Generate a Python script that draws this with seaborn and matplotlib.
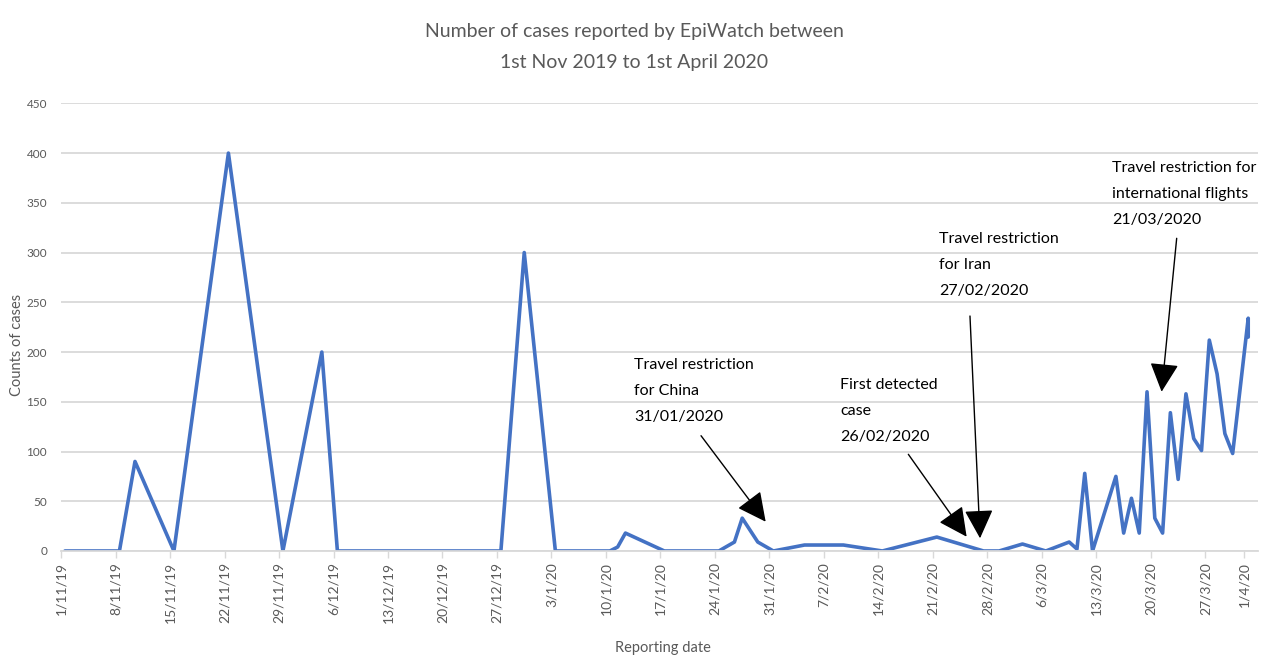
import pandas as pd
import seaborn as sns
import matplotlib.pyplot as plt

# values
report_dates = [
    "2019-11-01", "2019-11-08", "2019-11-10", "2019-11-15", "2019-11-22",
    "2019-11-29", "2019-12-04", "2019-12-06", "2019-12-27", "2019-12-30",
    "2020-01-03", "2020-01-10", "2020-01-11", "2020-01-12", "2020-01-17",
    "2020-01-24", "2020-01-26", "2020-01-27", "2020-01-29", "2020-01-31",
    "2020-02-04", "2020-02-09", "2020-02-14", "2020-02-21", "2020-02-27",
    "2020-02-29", "2020-03-03", "2020-03-06", "2020-03-09", "2020-03-10",
    "2020-03-11", "2020-03-12", "2020-03-15", "2020-03-16", "2020-03-17",
    "2020-03-18", "2020-03-19", "2020-03-20", "2020-03-21", "2020-03-22",
    "2020-03-23", "2020-03-24", "2020-03-25", "2020-03-26", "2020-03-27",
    "2020-03-28", "2020-03-29", "2020-03-30", "2020-04-01", "2020-04-01",
]
case_counts = [
    0, 0, 90, 0, 400,
    0, 200, 0, 0, 300,
    0, 0, 4, 18, 0,
    0, 9, 33, 9, 0,
    6, 6, 0, 14, 0,
    0, 7, 0, 9, 2,
    78, 0, 75, 18, 53,
    18, 160, 33, 18, 139,
    72, 158, 113, 101, 212,
    178, 118, 98, 234, 215,
]
tick_dates = list(pd.date_range("2019-11-01", "2020-03-27", freq="7D")) + [pd.Timestamp("2020-04-01")]

annotations = [
    ("Travel restriction\nfor China\n31/01/2020", (0.4787, 0.3574), (0.5347, 0.2575), (0.5887, 0.0654)),
    ("First detected\ncase\n26/02/2020", (0.6508, 0.3127), (0.7079, 0.2160), (0.7566, 0.0319)),
    ("Travel restriction\nfor Iran\n27/02/2020", (0.7335, 0.6388), (0.7594, 0.5249), (0.7678, 0.0284)),
    ("Travel restriction for\ninternational flights\n21/03/2020", (0.8780, 0.7974), (0.9321, 0.6985), (0.9195, 0.3558)),
]

df = pd.DataFrame({"date": pd.to_datetime(report_dates), "cases": case_counts})
# Excel date axis puts each point in the middle of its day slot
df["slot"] = df["date"] + pd.Timedelta(hours=12)

sns.set_theme(style="white")
plt.rcParams["font.family"] = ["Lato", "DejaVu Sans"]
grey = "#595959"

fig = plt.figure(figsize=(12.69, 6.59), dpi=100)
ax = fig.add_axes([0.0481, 0.1639, 0.9432, 0.6793])

sns.lineplot(data=df, x="slot", y="cases", ax=ax, color="#4472C4", linewidth=2.6,
             estimator=None, sort=False)

ax.set_ylim(0, 450)
ax.set_yticks(range(0, 451, 50))
ax.set_xlim(pd.Timestamp("2019-11-01"), pd.Timestamp("2019-11-01") + pd.Timedelta(days=153.75))
ax.set_xticks(tick_dates)
ax.set_xticklabels([f"{d.day}/{d.month}/{d:%y}" for d in tick_dates], rotation=90)

ax.grid(axis="y", color="#d9d9d9", linewidth=1.3)
ax.grid(axis="x", visible=False)
ax.set_axisbelow(True)
for side in ["top", "right", "left"]:
    ax.spines[side].set_visible(False)
ax.spines["bottom"].set_color("#d9d9d9")
ax.spines["bottom"].set_linewidth(1.3)
ax.tick_params(axis="x", bottom=True, length=5, width=1, color="#d9d9d9",
               labelsize=10, labelcolor=grey, pad=3)
ax.tick_params(axis="y", left=False, labelsize=8.5, labelcolor=grey, pad=4)

ax.set_xlabel("Reporting date", fontsize=10.5, color=grey)
ax.xaxis.set_label_coords(0.503, -0.2)
ax.set_ylabel("Counts of cases", fontsize=10.5, color=grey)
ax.yaxis.set_label_coords(-0.031, 0.46)

fig.text(0.4996, 0.9287, "Number of cases reported by EpiWatch between\n1st Nov 2019 to 1st April 2020",
         ha="center", va="center", fontsize=14, color=grey, linespacing=2.0)

for label, text_pos, arrow_start, arrow_tip in annotations:
    ax.text(text_pos[0], text_pos[1], label, transform=ax.transAxes, ha="left", va="center",
            fontsize=11.5, color="black", linespacing=2.05)
    ax.annotate("", xy=arrow_tip, xytext=arrow_start, xycoords="axes fraction",
                textcoords="axes fraction",
                arrowprops=dict(arrowstyle="-|>,head_length=0.9,head_width=0.45",
                                color="black", lw=1.0, mutation_scale=20, shrinkA=0, shrinkB=0))

fig.savefig("out.png", dpi=100)
